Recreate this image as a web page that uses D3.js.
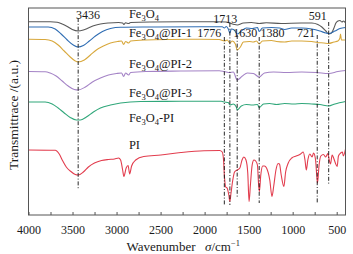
<!DOCTYPE html>
<html>
<head>
<meta charset="utf-8">
<script src="https://cdn.jsdelivr.net/npm/d3@7"></script>
<style>
  body { margin: 0; background: #fff; }
  text { font-family: "Liberation Serif", "Times New Roman", serif; fill: #1a1a1a; }
</style>
</head>
<body>
<svg id="chart" width="353" height="254"></svg>
<script>
  // FTIR spectra, [wavenumber cm-1, transmittance a.u. (stacked)]
  const fe3o4 = [[4000,193.3],[3754,193.2],[3674,192.7],[3617,191],[3560,188.5],[3503,185.5],[3436,184],[3377,185],[3320,187],[3251,189.5],[3183,191],[3091,192],[2977,192.5],[2931,192],[2917,190.5],[2897,192.2],[2863,191.5],[2840,192.5],[2611,193],[2269,193.2],[1869,193.2],[1754,193],[1713,192],[1663,190.5],[1630,190],[1560,192],[1469,192.5],[1380,191.5],[1300,192.2],[1131,191.5],[903,192],[783,192],[714,190.5],[669,188],[623,184],[591,181],[560,182],[531,187],[509,192],[486,194],[463,194.5],[440,193],[423,194],[400,192]];
  const fe3o4Pi1 = [[4000,175.7],[3811,175.5],[3731,174],[3663,170],[3594,164],[3526,158],[3469,154],[3436,153],[3366,155],[3297,160],[3229,165],[3149,169],[3069,172],[2989,173.5],[2943,174],[2920,170.5],[2897,173.5],[2863,172],[2840,174],[2669,175],[2383,175.5],[2040,175.7],[1834,175.5],[1776,174],[1743,175],[1713,172],[1686,174],[1651,171],[1630,165],[1594,168],[1560,173],[1491,173.5],[1446,173],[1411,174],[1380,171],[1343,174],[1240,174.5],[1183,173.5],[1091,173],[1011,174],[897,174],[783,173.5],[721,172.5],[646,172],[591,171.5],[531,173],[486,174],[463,177],[457,181],[446,175],[400,175]];
  const fe3o4Pi2 = [[4000,143.5],[3811,143.3],[3754,142],[3686,139],[3617,134],[3549,129],[3480,125.5],[3436,125],[3354,128],[3274,133],[3183,137],[3091,140],[3000,141.5],[2943,142],[2920,138.5],[2897,142],[2863,140],[2840,142.5],[2669,143.5],[2269,144],[1834,144.3],[1776,143.5],[1713,142.5],[1674,143],[1630,135],[1571,139],[1514,142],[1446,141.5],[1380,138],[1320,142],[1217,143],[1069,142.5],[897,143],[726,142.5],[591,141.5],[486,143.5],[400,144.5]];
  const fe3o4Pi3 = [[4000,113],[3811,113],[3731,111],[3663,107],[3594,102],[3526,97.5],[3457,95],[3411,95],[3343,98],[3263,103],[3183,107],[3069,110],[2954,112],[2726,113.5],[2269,113.7],[1811,113.7],[1776,113],[1731,112.5],[1713,110],[1674,111],[1640,108],[1630,105],[1583,109],[1526,110.5],[1457,110],[1400,110.5],[1380,107.5],[1331,111],[1263,111.5],[1183,110.5],[1091,111.5],[989,111],[897,111.5],[783,111],[691,110.5],[591,109],[520,111],[400,113.5]];
  const fe3o4DashPi = [[4000,188],[3777,188],[3697,186],[3629,181],[3560,175],[3491,170],[3436,168],[3377,169.5],[3309,174],[3240,179],[3160,183.5],[3069,186.5],[2954,187.7],[2611,188],[2040,188.3],[1800,188.2],[1776,187],[1754,188.5],[1731,186],[1713,182],[1697,186],[1663,185],[1630,181],[1583,184],[1526,187],[1457,186.5],[1400,187.5],[1380,183.5],[1343,187],[1240,187.5],[1149,187],[1091,185.5],[1011,187],[897,187],[783,186],[691,184],[623,182],[591,181.5],[520,184],[463,186.5],[400,187.5]];
  const pi = [[4000,65],[3697,64.7],[3651,61],[3617,55],[3571,48],[3526,44],[3469,40.5],[3436,40],[3377,43],[3320,48],[3251,52],[3171,54.5],[3091,55.5],[3023,56],[2977,57],[2954,55],[2931,45],[2917,38.5],[2891,47],[2869,49.5],[2851,41],[2829,49],[2783,55],[2691,58.5],[2497,60],[2269,62.5],[2006,64.3],[1830,64.5],[1800,63],[1785,55],[1776,40],[1760,28],[1745,27],[1725,20],[1713,13.5],[1700,22],[1680,35],[1660,43],[1630,45],[1600,47],[1575,55],[1555,58],[1530,55],[1510,42],[1495,13.5],[1480,30],[1460,50],[1440,55],[1420,54],[1400,50],[1388,32],[1378,23.5],[1362,40],[1340,49],[1320,49],[1297,47],[1260,35],[1235,18.5],[1215,29],[1190,45],[1165,51.5],[1150,51],[1130,40],[1100,28.5],[1080,43],[1050,52],[1010,57],[960,59],[910,61],[880,63],[860,55],[845,45],[828,55],[805,61],[780,58],[762,62],[740,55],[727,40],[718,32],[700,50],[680,59],[650,60.5],[625,58],[600,61.5],[585,55],[570,51],[552,60],[535,57],[515,52],[495,48.5],[480,59],[455,62],[435,63],[425,59],[400,66]];

  const seriesNames = ['Fe3O4', 'Fe3O4@PI-1', 'Fe3O4@PI-2', 'Fe3O4@PI-3', 'Fe3O4-PI', 'PI'];
  const seriesValues = [fe3o4, fe3o4Pi1, fe3o4Pi2, fe3o4Pi3, fe3o4DashPi, pi];
  const seriesColors = ['#585858', '#d8a83c', '#a483c6', '#30a77a', '#2f6db3', '#e23d4e'];
  const peakWavenumbers = [3436, 1776, 1713, 1630, 1380, 721, 591];
  const xTickValues = [4000, 3750, 3500, 3250, 3000, 2750, 2500, 2250, 2000, 1750, 1500, 1250, 1000, 750, 500];

  // layout of labels / guide lines (data units)
  const seriesLabelAt = { w: 2860, v: [196.7, 177.7, 147, 118, 93, 66.5] };
  const peakLayout = {
    3436: { top: 197, bottom: 25, lw: 3460, lv: 196, anchor: 'start' },
    1776: { top: 178, bottom: 10, lw: 1810, lv: 178.3, anchor: 'end' },
    1713: { top: 192, bottom: 10, lw: 1766, lv: 191.7, anchor: 'middle' },
    1630: { top: 180, bottom: 18, lw: 1674, lv: 178.3, anchor: 'start' },
    1380: { top: 178, bottom: 12, lw: 1366, lv: 178.3, anchor: 'start' },
    721:  { top: 180, bottom: 12, lw: 745,  lv: 178.3, anchor: 'end' },
    591:  { top: 193, bottom: 30, lw: 612,  lv: 195,   anchor: 'end' }
  };

  const svg = d3.select('#chart');
  const x = d3.scaleLinear().domain([4000, 400]).range([28.5, 345.5]);
  const y = d3.scaleLinear().domain([0, 207]).range([215, 8]);

  const line = d3.line()
    .x(d => x(d[0]))
    .y(d => y(d[1]))
    .curve(d3.curveMonotoneX);

  const plot = svg.append('g');

  // spectra
  plot.selectAll('path.spec')
    .data(seriesValues)
    .join('path')
    .attr('class', 'spec')
    .attr('fill', 'none')
    .attr('stroke', (d, i) => seriesColors[i])
    .attr('stroke-width', 1.1)
    .attr('d', line);

  // dash-dot guide lines
  plot.selectAll('line.peak')
    .data(peakWavenumbers)
    .join('line')
    .attr('class', 'peak')
    .attr('x1', d => x(d)).attr('x2', d => x(d))
    .attr('y1', d => y(peakLayout[d].top))
    .attr('y2', d => y(peakLayout[d].bottom))
    .attr('stroke', '#111')
    .attr('stroke-width', 0.9)
    .attr('stroke-dasharray', '4,1.8,1,1.8');

  plot.selectAll('text.peak')
    .data(peakWavenumbers)
    .join('text')
    .attr('class', 'peak')
    .attr('x', d => x(peakLayout[d].lw))
    .attr('y', d => y(peakLayout[d].lv))
    .attr('text-anchor', d => peakLayout[d].anchor)
    .attr('font-size', 12)
    .text(d => d);

  // series labels with Fe3O4 subscripts
  function chemText(sel, name) {
    const m = name.match(/^Fe3O4(.*)$/);
    if (!m) { sel.text(name); return; }
    sel.append('tspan').text('Fe');
    sel.append('tspan').attr('dy', 3).attr('font-size', '0.68em').text('3');
    sel.append('tspan').attr('dy', -3).text('O');
    sel.append('tspan').attr('dy', 3).attr('font-size', '0.68em').text('4');
    sel.append('tspan').attr('dy', -3).text(m[1]);
  }
  seriesNames.forEach((name, i) => {
    const t = plot.append('text')
      .attr('x', x(seriesLabelAt.w))
      .attr('y', y(seriesLabelAt.v[i]))
      .attr('font-size', 12.5);
    chemText(t, name);
  });

  // frame
  svg.append('rect')
    .attr('x', x(4000)).attr('y', y(207))
    .attr('width', x(400) - x(4000)).attr('height', y(0) - y(207))
    .attr('fill', 'none')
    .attr('stroke', '#555')
    .attr('stroke-width', 1);

  // x axis
  const xAxis = d3.axisBottom(x)
    .tickValues(xTickValues)
    .tickSizeInner(-3)
    .tickSizeOuter(0)
    .tickPadding(10)
    .tickFormat(d => d % 500 === 0 ? d : '');
  const gx = svg.append('g')
    .attr('transform', `translate(0,${y(0)})`)
    .call(xAxis);
  gx.select('.domain').remove();
  gx.selectAll('.tick line').attr('stroke', '#555');
  gx.selectAll('.tick text')
    .attr('font-size', 12)
    .attr('font-family', '"Liberation Serif", serif')
    .attr('fill', '#1a1a1a');

  // axis titles
  const xt = svg.append('text')
    .attr('x', 126.5)
    .attr('y', 251)
    .attr('font-size', 13);
  xt.append('tspan').text('Wavenumber');
  xt.append('tspan').attr('x', 205).attr('font-style', 'italic').text('σ');
  xt.append('tspan').text('/cm');
  xt.append('tspan').attr('dy', -5).attr('font-size', '0.65em').text('−1');

  svg.append('text')
    .attr('transform', 'translate(18,115) rotate(-90)')
    .attr('text-anchor', 'middle')
    .attr('font-size', 13.5)
    .text('Transmittrace /(a.u.)');
</script>
</body>
</html>
